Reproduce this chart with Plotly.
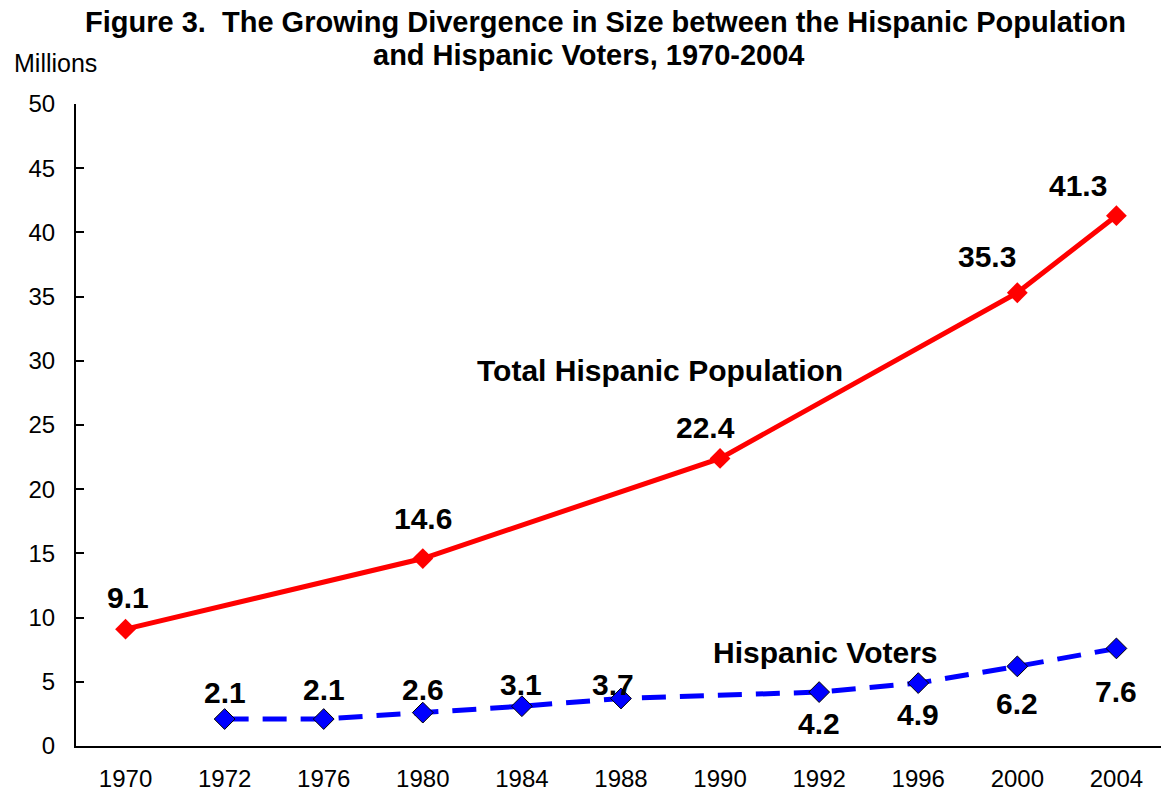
import plotly.graph_objects as go

# Category axis (equally spaced years)
years = ["1970", "1972", "1976", "1980", "1984", "1988", "1990", "1992", "1996", "2000", "2004"]

# Total Hispanic population (millions)
pop_years = ["1970", "1980", "1990", "2000", "2004"]
pop_values = [9.1, 14.6, 22.4, 35.3, 41.3]

# Hispanic voters (millions)
voter_years = ["1972", "1976", "1980", "1984", "1988", "1992", "1996", "2000", "2004"]
voter_values = [2.1, 2.1, 2.6, 3.1, 3.7, 4.2, 4.9, 6.2, 7.6]

y_ticks = [0, 5, 10, 15, 20, 25, 30, 35, 40, 45, 50]

title_lines = [
    "Figure 3.  The Growing Divergence in Size between the Hispanic Population",
    "and Hispanic Voters, 1970-2004",
]

FONT = "Arial, Liberation Sans, sans-serif"
RED = "#ff0000"
BLUE = "#0000ff"

# plot-area geometry in pixels (used to place free text)
L, R, T, B = 76, 0, 104, 50
W, H = 1161, 796
PW, PH = W - L - R, H - T - B


def px_to_paper(px, py):
    return (px - L) / PW, (H - B - py) / PH


fig = go.Figure()

fig.add_trace(go.Scatter(
    x=pop_years, y=pop_values, mode="lines+markers",
    line=dict(color=RED, width=5),
    marker=dict(symbol="diamond", size=16, color=RED, line=dict(width=0)),
    hoverinfo="x+y", showlegend=False,
))

fig.add_trace(go.Scatter(
    x=voter_years, y=voter_values, mode="lines+markers",
    line=dict(color=BLUE, width=5, dash="24px,14px"),
    marker=dict(symbol="diamond", size=16, color=BLUE, line=dict(width=1, color="black")),
    hoverinfo="x+y", showlegend=False,
))

# Value labels: pixel offsets relative to each point
pop_offsets = [(2, 32), (0, 40), (-15, 31), (-30, 36), (-38, 30)]
voter_offsets = [(0, 27), (0, 30), (0, 23), (-1, 22), (-8, 14),
                 (0, -31), (0, -31), (0, -37), (0, -43)]

label_font = dict(family=FONT, size=30, color="black")
for yr, v, (dx, dy) in zip(pop_years, pop_values, pop_offsets):
    fig.add_annotation(x=years.index(yr), y=v, text=f"<b>{v:.1f}</b>", showarrow=False,
                       xshift=dx, yshift=dy, font=label_font)
for yr, v, (dx, dy) in zip(voter_years, voter_values, voter_offsets):
    fig.add_annotation(x=years.index(yr), y=v, text=f"<b>{v:.1f}</b>", showarrow=False,
                       xshift=dx, yshift=dy, font=label_font)

# Series names placed on the plot
name_font = dict(family=FONT, size=30, color="black")
px_, py_ = px_to_paper(660, 370)
fig.add_annotation(x=px_, y=py_, xref="paper", yref="paper", xanchor="center", yanchor="middle",
                   text="<b>Total Hispanic Population</b>", showarrow=False, font=name_font)
px_, py_ = px_to_paper(825, 652)
fig.add_annotation(x=px_, y=py_, xref="paper", yref="paper", xanchor="center", yanchor="middle",
                   text="<b>Hispanic Voters</b>", showarrow=False, font=name_font)

# Unit label
px_, py_ = px_to_paper(55, 63)
fig.add_annotation(x=px_, y=py_, xref="paper", yref="paper", xanchor="center", yanchor="middle",
                   text="Millions", showarrow=False,
                   font=dict(family=FONT, size=25, color="black"))

# Two-line chart title
title_font = dict(family=FONT, size=29, color="black")
for line, (cx, cy) in zip(title_lines, [(605, 22), (588, 55)]):
    px_, py_ = px_to_paper(cx, cy)
    fig.add_annotation(x=px_, y=py_, xref="paper", yref="paper", xanchor="center", yanchor="middle",
                       text=f"<b>{line}</b>", showarrow=False, font=title_font)

fig.update_layout(
    width=W, height=H,
    margin=dict(l=L, r=R, t=T, b=B),
    paper_bgcolor="white", plot_bgcolor="white",
    font=dict(family=FONT, color="black"),
    xaxis=dict(
        type="category", categoryorder="array", categoryarray=years,
        tickvals=years, ticktext=years,
        range=[-0.5, 10.45], showgrid=False, zeroline=False,
        showline=True, linecolor="black", linewidth=2,
        ticks="", tickfont=dict(family=FONT, size=24, color="black"),
        ticklabelstandoff=10,
    ),
    yaxis=dict(
        range=[0, 50], tickvals=y_ticks, ticktext=[str(t) for t in y_ticks],
        showgrid=False, zeroline=False,
        showline=True, linecolor="black", linewidth=2,
        ticks="inside", ticklen=8, tickwidth=1.5, tickcolor="black",
        tickfont=dict(family=FONT, size=24, color="black"),
        ticklabelstandoff=14,
    ),
)

fig.write_html("out.html")
